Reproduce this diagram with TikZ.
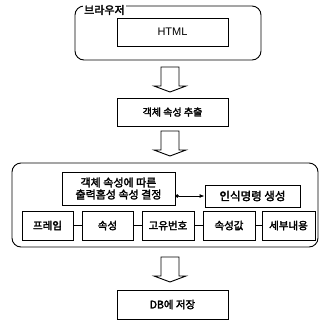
\documentclass[tikz,border=0pt]{standalone}
\usepackage{fontspec}
\setmainfont{Liberation Sans}
\newfontfamily\kr[FakeBold=2.5]{Noto Sans CJK KR}
\usetikzlibrary{arrows.meta}
\tikzset{
  box/.style={draw, line width=0.9pt, inner sep=0pt, font=\kr\fontsize{10.5}{11.5}\selectfont, align=center},
  rbox/.style={draw, line width=0.9pt, rounded corners=9pt},
  downarrow/.pic={\draw[line width=0.9pt] (-9,0) -- (9,0) -- (9,19) -- (16,19) -- (0,25) -- (-16,19) -- (-9,19) -- cycle;},
  link/.style={line width=0.9pt}
}
\begin{document}
\begin{tikzpicture}[x=1pt,y=-1pt]
\useasboundingbox (0,0) rectangle (321,322);
% browser
\draw[rbox] (75,6) rectangle (261,60);
\node[fill=white, inner sep=1pt, font=\kr\fontsize{11}{12}\selectfont, anchor=west] (br) at (83,10) {브라우저};
\node[box, minimum width=111pt, minimum height=28pt, font=\fontsize{11}{12}\selectfont] (html) at (172.5,32) {HTML};
\pic at (170,67) {downarrow};
\node[box, minimum width=111pt, minimum height=28pt, font=\kr\fontsize{10}{11}\selectfont] (ext) at (172.5,112) {객체 속성 추출};
\pic at (170,131) {downarrow};
% big box
\draw[rbox] (12,163) rectangle (318,247);
\node[box, minimum width=113pt, minimum height=33pt, font=\kr\fontsize{11}{12}\selectfont] (dec) at (118.5,188.5) {객체 속성에 따른\\출력홈성 속성 결정};
\node[box, minimum width=95pt, minimum height=22pt, font=\kr\fontsize{11.5}{12}\selectfont] (ins) at (252.5,196) {인식명령 생성};
\draw[link, {Circle[length=3.5pt]}-{Latex[length=5pt,width=4pt]}] (dec.east |- ins.west) -- (ins.west);
\node[box, minimum width=51pt, minimum height=29pt] (f1) at (47.5,225.5) {프레임};
\node[box, minimum width=51pt, minimum height=29pt] (f2) at (107.5,225.5) {속성};
\node[box, minimum width=52pt, minimum height=29pt] (f3) at (168,225.5) {고유번호};
\node[box, minimum width=52pt, minimum height=29pt] (f4) at (229,225.5) {속성값};
\node[box, minimum width=53pt, minimum height=29pt] (f5) at (288.5,225.5) {세부내용};
\draw[link] (f1.east) -- (f2.west);
\draw[link] (f2.east) -- (f3.west);
\draw[link] (f3.east) -- (f4.west);
\draw[link] (f4.east) -- (f5.west);
\pic at (170,257) {downarrow};
\node[box, minimum width=111pt, minimum height=29pt] (db) at (172.5,304.5) {DB에 저장};
\end{tikzpicture}
\end{document}
